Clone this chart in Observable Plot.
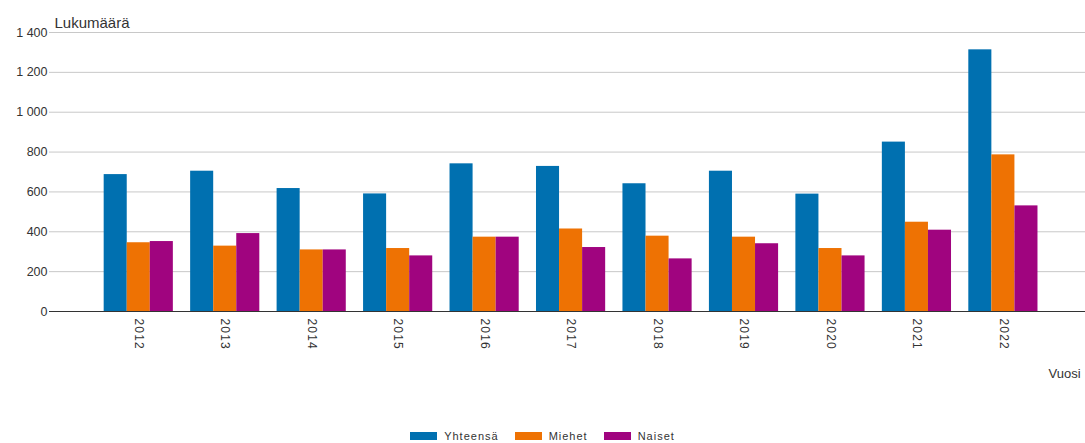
<!DOCTYPE html>
<html><head><meta charset="utf-8">
<script src="https://cdn.jsdelivr.net/npm/d3@7"></script>
<script src="https://cdn.jsdelivr.net/npm/@observablehq/plot@0.6"></script>
<style>
html,body{margin:0;padding:0;background:#fff;overflow:hidden;}
body{font-family:"Liberation Sans",Arial,sans-serif;width:1085px;height:443px;}
#legend{height:23px;display:flex;justify-content:center;align-items:flex-start;padding-top:12px;box-sizing:border-box;}
.item{display:flex;align-items:center;height:8px;margin:0 8px;}
.sw{width:27px;height:8px;margin-right:7px;}
.lab{font-size:11px;letter-spacing:1px;color:#333;line-height:8px;}
</style></head><body>
<div id="chart"></div>
<div id="legend"></div>
<script>
const years = ["2012","2013","2014","2015","2016","2017","2018","2019","2020","2021","2022"];
const seriesNames = ["Yhteensä","Miehet","Naiset"];
const yhteensa = [687,704,617,590,741,728,641,704,589,850,1313];
const miehet   = [345,328,309,316,373,414,378,373,316,448,786];
const naiset   = [351,391,309,279,373,321,264,340,279,408,530];
const colors = ["#0070b0","#ee7203","#a0047f"];
const yTicks = [0,200,400,600,800,1000,1200,1400];
const yLabel = "Lukumäärä";
const xLabel = "Vuosi";

const seriesValues = [yhteensa, miehet, naiset];
const rows = [];
seriesNames.forEach((s, i) => years.forEach((y, j) => rows.push({year: y, series: s, idx: i, value: seriesValues[i][j]})));

function build(bw) {
  const third = bw / 3;
  return Plot.plot({
    width: 1085,
    height: 420,
    marginLeft: 49,
    marginRight: 0,
    marginTop: 32,
    marginBottom: 109,
    style: {fontFamily: "Liberation Sans, Arial, sans-serif", fontSize: "12px", color: "#333", background: "#fff"},
    x: {type: "band", domain: years, paddingInner: 0.2, paddingOuter: 0.591, align: 0.535, round: false, label: null},
    y: {domain: [0, 1400], label: null},
    color: {domain: seriesNames, range: colors},
    marks: [
      Plot.gridY({ticks: yTicks, stroke: "#c8c8c8", strokeOpacity: 1}),
      ...seriesNames.map((s, i) => Plot.barY(rows.filter(r => r.idx === i), {
        x: "year", y: "value", fill: "series",
        insetLeft: i * third, insetRight: (2 - i) * third
      })),
      Plot.ruleY([0], {stroke: "#333"}),
      Plot.axisY({ticks: yTicks, tickSize: 0, tickPadding: 2, label: null, fontSize: 12.5,
        tickFormat: d => d3.format(",")(d).replace(",", " ")}),
      Plot.axisX({tickSize: 0, tickPadding: 7, tickRotate: 90, label: null, fontSize: 12}),
      Plot.text([yLabel], {text: d => d, frameAnchor: "top-left", textAnchor: "start", lineAnchor: "bottom", dx: 5, dy: -5, fontSize: 15, fill: "#333"}),
      Plot.text([xLabel], {text: d => d, frameAnchor: "bottom-right", textAnchor: "start", lineAnchor: "bottom", dx: -37, dy: 66, fontSize: 13, fill: "#333"})
    ]
  });
}

let chart = build(69);
const bw = chart.scale("x").bandwidth;
chart = build(bw);
d3.select(chart).selectAll('g[aria-label="x-axis tick label"] text').attr("letter-spacing", "1.2px");
document.getElementById("chart").appendChild(chart);

const legend = document.getElementById("legend");
seriesNames.forEach((s, i) => {
  const it = document.createElement("div");
  it.className = "item";
  const sw = document.createElement("div");
  sw.className = "sw"; sw.style.background = colors[i];
  const lb = document.createElement("span");
  lb.className = "lab"; lb.textContent = s;
  it.appendChild(sw); it.appendChild(lb);
  legend.appendChild(it);
});
</script>
</body></html>
